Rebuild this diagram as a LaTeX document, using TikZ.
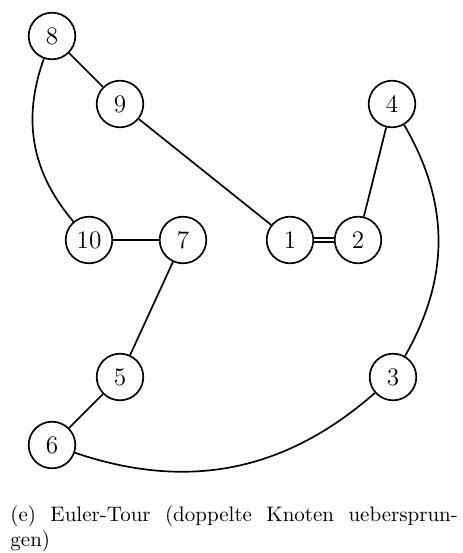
\documentclass[tikz,border=0pt]{standalone}
\begin{document}
\begin{tikzpicture}[x=0.476pt,y=-0.476pt,
  vertex/.style={circle,draw,line width=0.8pt,minimum size=22.2pt,inner sep=0pt,font=\large},
  edge/.style={line width=0.8pt},
  dbl/.style={double,double distance=1.2pt,line width=0.6pt}]
\useasboundingbox (0,0) rectangle (462,553);
\node[vertex] (n8)  at (52,36)   {8};
\node[vertex] (n9)  at (120,104) {9};
\node[vertex] (n4)  at (392,104) {4};
\node[vertex] (n10) at (89,240)  {10};
\node[vertex] (n7)  at (183,240) {7};
\node[vertex] (n1)  at (290,240) {1};
\node[vertex] (n2)  at (358,240) {2};
\node[vertex] (n5)  at (120,377) {5};
\node[vertex] (n3)  at (393,377) {3};
\node[vertex] (n6)  at (52,445)  {6};
% tour edges
\draw[edge] (n8) -- (n9);
\draw[edge] (n9) -- (n1);
\draw[dbl]  (n1) -- (n2);
\draw[edge] (n2) -- (n4);
\draw[edge] (n4) to[bend left=30] (n3);
\draw[edge] (n3) to[bend left=30] (n6);
\draw[edge] (n6) -- (n5);
\draw[edge] (n5) -- (n7);
\draw[edge] (n7) -- (n10);
\draw[edge] (n10) to[bend left=30] (n8);
% caption
\node[anchor=north west,inner sep=0pt,text width=213pt,align=justify] (cap) at (10,505)
  {(e) Euler-Tour (doppelte Knoten uebersprun-\linebreak gen)};
\end{tikzpicture}
\end{document}
